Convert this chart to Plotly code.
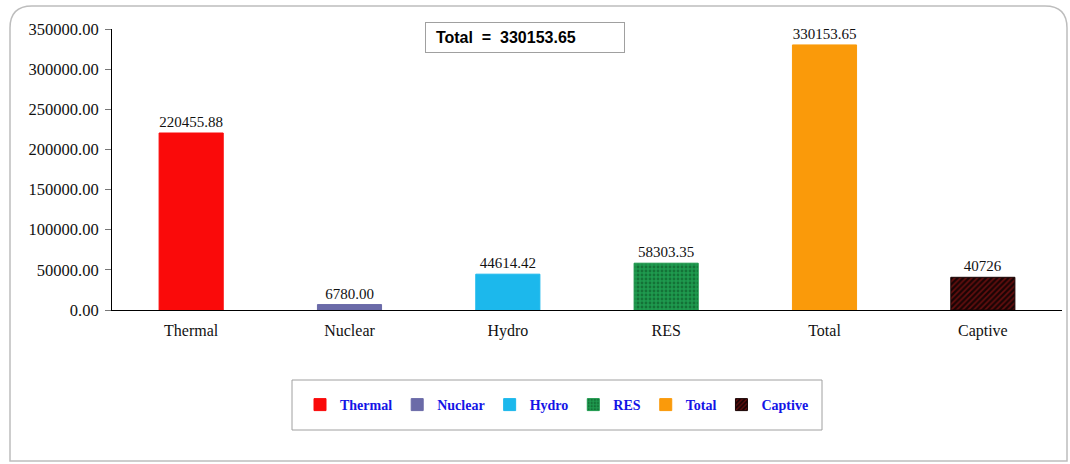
import plotly.graph_objects as go

categories = ["Thermal", "Nuclear", "Hydro", "RES", "Total", "Captive"]
values = [220455.88, 6780.00, 44614.42, 58303.35, 330153.65, 40726]
labels = ["220455.88", "6780.00", "44614.42", "58303.35", "330153.65", "40726"]
colors = ["#FA0A0A", "#6B6BA8", "#1CB8EC", "#1E9A4E", "#FA9A0A", "#1A0404"]
patterns = ["", "", "", ".", "", "/"]
pattern_fg = ["", "", "", "#0A4A20", "", "#B01818"]
total_text = "Total  =  330153.65"
y_ticks = [0, 50000, 100000, 150000, 200000, 250000, 300000, 350000]

fig = go.Figure()
for c, v, t, col, p, pf in zip(categories, values, labels, colors, patterns, pattern_fg):
    marker = dict(color=col, line=dict(color=col, width=1))
    if p:
        marker["pattern"] = dict(shape=p, fgcolor=pf, bgcolor=col, size=4, solidity=0.4, fillmode="overlay")
    fig.add_trace(go.Bar(
        x=[c], y=[v], name=c, text=[t], textposition="outside",
        textfont=dict(family="Liberation Serif", size=15, color="#111"),
        marker=marker, width=0.405, cliponaxis=False,
    ))

L, R, T, B = 112, 8, 29, 154
W, H = 1070, 464
pw, ph = W - L - R, H - T - B

def px_x(x):
    return (x - L) / pw

def px_y(y):
    return (H - B - y) / ph

# outer rounded border
x0, x1, y0, y1 = px_x(10), px_x(1067), px_y(461), px_y(6)
rx, ry = 22 / pw, 22 / ph
path = (f"M {x0+rx},{y1} L {x1-rx},{y1} Q {x1},{y1} {x1},{y1-ry} L {x1},{y0} L {x0},{y0} L {x0},{y1-ry} "
        f"Q {x0},{y1} {x0+rx},{y1} Z")
shapes = [
    dict(type="path", path=path, xref="paper", yref="paper",
         line=dict(color="#BDBDBD", width=1.5), layer="below"),
    dict(type="rect", xref="paper", yref="paper",
         x0=px_x(292), x1=px_x(822), y0=px_y(430), y1=px_y(380),
         line=dict(color="#A0A0A0", width=1)),
]

fig.update_layout(
    width=W, height=H,
    margin=dict(l=L, r=R, t=T, b=B),
    paper_bgcolor="white", plot_bgcolor="white",
    barmode="overlay",
    showlegend=True,
    legend=dict(orientation="h", x=px_x(557), xanchor="center", y=px_y(405), yanchor="middle",
                font=dict(family="Liberation Serif", size=14, color="#1414E6", weight="bold"),
                itemwidth=30, bgcolor="rgba(0,0,0,0)", itemclick=False),
    shapes=shapes,
    annotations=[dict(text="<b>&nbsp;&nbsp;" + total_text + "</b>", xref="paper", yref="paper",
                      x=px_x(525), y=px_y(37), xanchor="center", yanchor="middle",
                      showarrow=False,
                      font=dict(family="Liberation Sans", size=16, color="black"),
                      bordercolor="#A0A0A0", borderwidth=1, bgcolor="white",
                      width=196, height=27, align="left", borderpad=1)],
    xaxis=dict(categoryorder="array", categoryarray=categories, showline=True,
               linecolor="black", linewidth=1, ticks="", showgrid=False,
               ticklabelstandoff=6,
               tickfont=dict(family="Liberation Serif", size=16, color="#111"),
               range=[-0.5, 5.5]),
    yaxis=dict(range=[0, 350000], tickvals=y_ticks, tickformat=".2f", showline=True,
               linecolor="black", linewidth=1, ticks="outside", ticklen=6,
               ticklabelstandoff=3,
               tickcolor="#777", showgrid=False, zeroline=False,
               tickfont=dict(family="Liberation Serif", size=16.5, color="#111")),
)

fig.write_html("out.html", post_script="document.body.style.margin='0';",
               config={"displayModeBar": False})
